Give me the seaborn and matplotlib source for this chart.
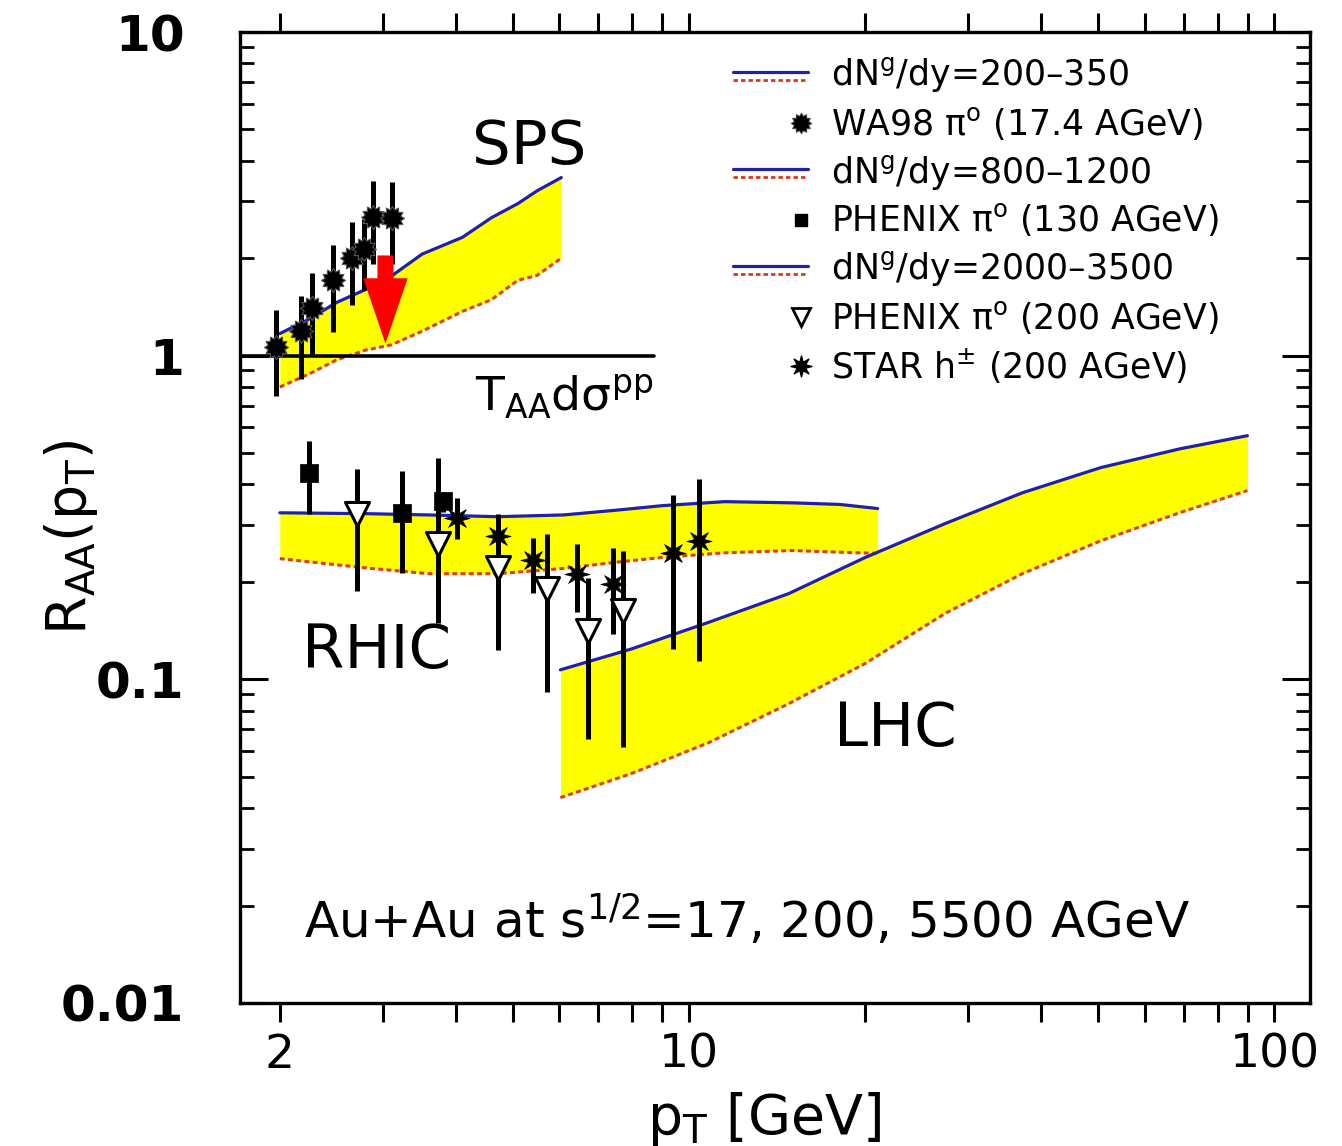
import numpy as np
import matplotlib
matplotlib.use("Agg")
import matplotlib.pyplot as plt
import seaborn as sns
from matplotlib.path import Path
from matplotlib.ticker import FixedLocator, NullFormatter, LogLocator
from matplotlib.lines import Line2D

# ---- theory bands: upper (solid) and lower (dashed) edges ----
sps_pt = [2.0, 2.25, 2.5, 2.8, 3.1, 3.5, 4.1, 4.6, 5.1, 5.5, 6.05]
sps_hi = [1.17, 1.30, 1.46, 1.60, 1.76, 2.06, 2.32, 2.67, 2.95, 3.23, 3.55]
sps_lo = [0.80, 0.88, 0.97, 1.04, 1.08, 1.19, 1.37, 1.49, 1.71, 1.77, 2.00]

rhic_pt = [2.0, 2.8, 3.6, 4.7, 6.1, 7.5, 9.0, 11.5, 15.0, 18.1, 21.0]
rhic_hi = [0.327, 0.325, 0.322, 0.318, 0.322, 0.333, 0.344, 0.354, 0.351, 0.347, 0.337]
rhic_lo = [0.236, 0.221, 0.212, 0.212, 0.220, 0.230, 0.238, 0.246, 0.250, 0.247, 0.245]

lhc_pt = [6.03, 7.96, 10.8, 14.8, 20.0, 27.4, 37.1, 50.5, 68.8, 89.9]
lhc_hi = [0.107, 0.124, 0.150, 0.184, 0.238, 0.303, 0.377, 0.451, 0.515, 0.566]
lhc_lo = [0.0431, 0.0511, 0.0637, 0.0841, 0.112, 0.160, 0.212, 0.268, 0.327, 0.383]

# binary-scaling reference line
ref_pt = [1.71, 8.7]
ref_r = [1.0, 1.0]

# ---- measurements ----
wa98_pt = [1.97, 2.17, 2.27, 2.47, 2.66, 2.78, 2.88, 3.11]
wa98_r = [1.06, 1.19, 1.40, 1.71, 2.01, 2.14, 2.69, 2.67]
wa98_hi = [1.38, 1.53, 1.80, 2.19, 2.58, 2.65, 3.47, 3.43]
wa98_lo = [0.75, 0.85, 1.01, 1.18, 1.43, 1.60, 1.92, 1.92]

phx130_pt = [2.24, 3.24, 3.80]
phx130_r = [0.435, 0.327, 0.356]
phx130_hi = [0.546, 0.441, 0.380]
phx130_lo = [0.325, 0.213, 0.330]

phx200_pt = [2.71, 3.73, 4.72, 5.73, 6.73, 7.72]
phx200_r = [0.325, 0.262, 0.221, 0.190, 0.141, 0.163]
phx200_hi = [0.447, 0.484, 0.325, 0.282, 0.206, 0.250]
phx200_lo = [0.188, 0.149, 0.123, 0.0912, 0.0656, 0.0616]

star_pt = [4.02, 4.72, 5.42, 6.44, 7.41, 9.4, 10.4]
star_r = [0.316, 0.278, 0.233, 0.212, 0.197, 0.246, 0.268]
star_hi = [0.364, 0.320, 0.274, 0.262, 0.255, 0.370, 0.417]
star_lo = [0.272, 0.245, 0.185, 0.161, 0.138, 0.124, 0.114]

# ---- legend text ----
legend_labels = [
    "dN$^{g}$/dy=200\u2013350",
    r"WA98 $\pi^{o}$ (17.4 AGeV)",
    "dN$^{g}$/dy=800\u20131200",
    r"PHENIX $\pi^{o}$ (130 AGeV)",
    "dN$^{g}$/dy=2000\u20133500",
    r"PHENIX $\pi^{o}$ (200 AGeV)",
    r"STAR h$^{\pm}$ (200 AGeV)",
]

x_tick_vals = [2, 10, 100]
x_tick_labels = ["2", "10", "100"]
y_tick_vals = [0.01, 0.1, 1, 10]
y_tick_labels = ["0.01", "0.1", "1", "10"]

BLUE = "#2020a8"
RED = "#d83a1c"
YELLOW = "#ffff00"

sns.set_theme(style="ticks")
plt.rcParams.update({
    "font.family": ["DejaVu Sans"],
    "mathtext.fontset": "dejavusans",
    "mathtext.default": "regular",
    "axes.linewidth": 2.4,
    "text.color": "black",
    "axes.labelcolor": "black",
    "xtick.color": "black",
    "ytick.color": "black",
})

W, H = 1342, 1146
fig = plt.figure(figsize=(W / 100, H / 100), dpi=100)
fig.patch.set_facecolor("white")
AX_L, AX_R, AX_T, AX_B = 240, 1310, 32, 1003
ax = fig.add_axes([AX_L / W, 1 - AX_B / H, (AX_R - AX_L) / W, (AX_B - AX_T) / H])
ax.set_facecolor("white")
ax.set_xscale("log")
ax.set_yscale("log")
ax.set_xlim(1.71, 115)
ax.set_ylim(0.01, 10)

# markers
wa98_marker = Path.unit_regular_star(12, 0.72)
star_marker = Path.unit_regular_star(8, 0.42)


def band(pt, hi, lo):
    ax.fill_between(pt, lo, hi, color=YELLOW, lw=0, zorder=1)
    sns.lineplot(x=pt, y=hi, color=BLUE, lw=2.3, ax=ax, sort=False,
                 estimator=None, zorder=2)
    sns.lineplot(x=pt, y=lo, color=RED, lw=2.2, linestyle=(0, (1.6, 1.1)),
                 ax=ax, sort=False, estimator=None, zorder=2)


band(sps_pt, sps_hi, sps_lo)
band(rhic_pt, rhic_hi, rhic_lo)
band(lhc_pt, lhc_hi, lhc_lo)

sns.lineplot(x=ref_pt, y=ref_r, color="black", lw=2.6, ax=ax, sort=False,
             estimator=None, zorder=2.5)


def data_set(pt, r, lo, hi, marker, size, face, edge, lw_edge):
    ax.vlines(pt, lo, hi, color="black", lw=3.6, zorder=3)
    sns.scatterplot(x=pt, y=r, marker=marker, s=size, color=face,
                    edgecolor=edge, linewidth=lw_edge, ax=ax, zorder=4)


data_set(wa98_pt, wa98_r, wa98_lo, wa98_hi, wa98_marker, 300, "black", "#555555", 0.8)
data_set(phx130_pt, phx130_r, phx130_lo, phx130_hi, "s", 150, "black", "black", 0.5)
data_set(phx200_pt, phx200_r, phx200_lo, phx200_hi, "v", 300, "white", "black", 2.2)
data_set(star_pt, star_r, star_lo, star_hi, star_marker, 330, "black", "black", 0.5)

# red arrow marking the crossing of the SPS band with the reference line
ax.annotate("", xy=(3.03, 1.09), xytext=(3.03, 2.04),
            arrowprops=dict(arrowstyle="simple,head_length=47,head_width=32,tail_width=11.5",
                            mutation_scale=1, color="#ff0000", lw=0,
                            shrinkA=0, shrinkB=0),
            zorder=6)


# ---- legend drawn in axes coordinates ----
def fx(px):
    return (px - AX_L) / (AX_R - AX_L)


def fy(py):
    return (AX_B - py) / (AX_B - AX_T)


rows = [75, 123, 172, 220, 269, 317, 366]
legend_markers = [None, "wa98", None, "s", None, "v", "star"]
for row_y, label, kind in zip(rows, legend_labels, legend_markers):
    if kind is None:
        ax.add_line(Line2D([fx(733), fx(808)], [fy(row_y - 3)] * 2,
                           transform=ax.transAxes, color=BLUE, lw=2.3, zorder=5))
        ax.add_line(Line2D([fx(733), fx(808)], [fy(row_y + 5)] * 2,
                           transform=ax.transAxes, color=RED, lw=2.0,
                           linestyle=(0, (1.6, 1.1)), zorder=5))
    else:
        if kind == "wa98":
            kw = dict(marker=wa98_marker, markersize=15, mfc="black", mec="#555555", mew=0.6)
        elif kind == "s":
            kw = dict(marker="s", markersize=9, mfc="black", mec="black")
        elif kind == "v":
            kw = dict(marker="v", markersize=13, mfc="white", mec="black", mew=2)
        else:
            kw = dict(marker=star_marker, markersize=15, mfc="black", mec="black")
        ax.add_line(Line2D([fx(801)], [fy(row_y)], transform=ax.transAxes,
                           linestyle="none", zorder=5, **kw))
    ax.text(fx(831), fy(row_y), label, transform=ax.transAxes, ha="left",
            va="center", fontsize=25, color="black", zorder=5)

# ---- region labels ----
ax.text(4.26, 3.92, "SPS", fontsize=44, ha="left", va="baseline", color="black")
ax.text(4.31, 0.676, r"T$_{\rm AA}$d$\sigma^{\rm pp}$", fontsize=34, ha="left",
        va="baseline", color="black")
ax.text(2.186, 0.1087, "RHIC", fontsize=44, ha="left", va="baseline", color="black")
ax.text(17.7, 0.0624, "LHC", fontsize=44, ha="left", va="baseline", color="black")
ax.text(2.2, 0.0159, r"Au+Au at s$^{1/2}$=17, 200, 5500 AGeV", fontsize=36,
        ha="left", va="baseline", color="black")

# ---- axes, ticks ----
ax.xaxis.set_major_locator(FixedLocator(x_tick_vals))
ax.set_xticklabels(x_tick_labels)
ax.xaxis.set_minor_locator(FixedLocator([3, 4, 5, 6, 7, 8, 9, 20, 30, 40, 50, 60, 70, 80, 90]))
ax.xaxis.set_minor_formatter(NullFormatter())
ax.yaxis.set_major_locator(FixedLocator(y_tick_vals))
ax.set_yticklabels(y_tick_labels)
ax.yaxis.set_minor_locator(LogLocator(base=10, subs=np.arange(2, 10)))
ax.yaxis.set_minor_formatter(NullFormatter())

ax.tick_params(axis="x", which="both", direction="out", top=True, bottom=True,
               length=13.5, width=2.2, color="black")
ax.tick_params(axis="x", which="major", labelsize=34, pad=8, labelcolor="black")
ax.tick_params(axis="y", which="major", direction="in", left=True, right=True,
               length=20, width=2.2, labelsize=36, pad=40, color="black",
               labelcolor="black")
ax.tick_params(axis="y", which="minor", direction="in", left=True, right=True,
               length=10, width=2.0, color="black")
for lbl in ax.get_yticklabels():
    lbl.set_fontweight("bold")

for sp in ax.spines.values():
    sp.set_visible(True)
    sp.set_color("black")
    sp.set_linewidth(2.4)

ax.set_xlabel(r"p$_{\rm T}$ [GeV]", fontsize=40, color="black")
ax.xaxis.set_label_coords(fx(764), fy(1090))
ax.set_ylabel(r"R$_{\rm AA}$(p$_{\rm T}$)", fontsize=40, color="black")
ax.yaxis.set_label_coords(fx(100), fy(537))

fig.savefig("out.png", dpi=100, facecolor="white")
